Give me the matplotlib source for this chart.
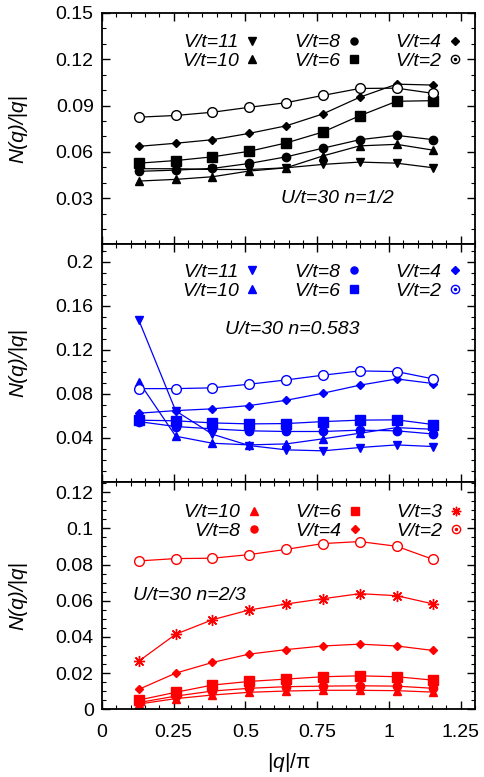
import numpy as np
import matplotlib
matplotlib.use('Agg')
import matplotlib.pyplot as plt
from matplotlib.lines import Line2D
from matplotlib.legend_handler import HandlerTuple
from matplotlib.ticker import MultipleLocator, FormatStrFormatter

plt.rcParams['font.family'] = ['Liberation Sans', 'DejaVu Sans']
plt.rcParams['mathtext.fontset'] = 'custom'
plt.rcParams['mathtext.it'] = 'Liberation Sans:italic'
plt.rcParams['mathtext.rm'] = 'Liberation Sans'

# |q|/pi grid
q = [0.128, 0.257, 0.385, 0.513, 0.642, 0.770, 0.898, 1.027, 1.155]

# U/t=30, n=1/2 (black)
half_v11 = [0.0491, 0.0491, 0.0486, 0.0486, 0.0497, 0.0519, 0.0534, 0.0527, 0.0497]
half_v10 = [0.0411, 0.0422, 0.0439, 0.0476, 0.0497, 0.0574, 0.0639, 0.0649, 0.0611]
half_v8 = [0.0474, 0.0482, 0.0493, 0.0525, 0.0568, 0.0624, 0.0679, 0.0707, 0.0679]
half_v6 = [0.0527, 0.0544, 0.0568, 0.0604, 0.0658, 0.0729, 0.0834, 0.0928, 0.0932]
half_v4 = [0.0636, 0.0656, 0.0679, 0.0720, 0.0769, 0.0846, 0.0954, 0.1039, 0.1033]
half_v2 = [0.0825, 0.0836, 0.0857, 0.0889, 0.0919, 0.0966, 0.1011, 0.1013, 0.0979]

# U/t=30, n=0.583 (blue)
mid_v11 = [0.1470, 0.0642, 0.0430, 0.0327, 0.0288, 0.0279, 0.0309, 0.0333, 0.0318]
mid_v10 = [0.0909, 0.0412, 0.0348, 0.0333, 0.0342, 0.0388, 0.0439, 0.0490, 0.0475]
mid_v8 = [0.0545, 0.0500, 0.0479, 0.0461, 0.0455, 0.0455, 0.0467, 0.0461, 0.0432]
mid_v6 = [0.0558, 0.0552, 0.0533, 0.0524, 0.0527, 0.0545, 0.0558, 0.0561, 0.0518]
mid_v4 = [0.0621, 0.0645, 0.0661, 0.0691, 0.0739, 0.0803, 0.0876, 0.0933, 0.0891]
mid_v2 = [0.0845, 0.0845, 0.0852, 0.0885, 0.0924, 0.0967, 0.1006, 0.1000, 0.0933]

# U/t=30, n=2/3 (red)
tt_v10 = [0.0029, 0.0059, 0.0079, 0.0094, 0.0101, 0.0105, 0.0105, 0.0103, 0.0095]
tt_v8 = [0.0037, 0.0073, 0.0101, 0.0116, 0.0125, 0.0128, 0.0130, 0.0128, 0.0116]
tt_v6 = [0.0051, 0.0094, 0.0134, 0.0154, 0.0167, 0.0180, 0.0185, 0.0180, 0.0161]
tt_v4 = [0.0110, 0.0200, 0.0259, 0.0305, 0.0330, 0.0350, 0.0360, 0.0350, 0.0325]
tt_v3 = [0.0266, 0.0415, 0.0495, 0.0549, 0.0582, 0.0611, 0.0639, 0.0628, 0.0582]
tt_v2 = [0.0820, 0.0833, 0.0835, 0.0855, 0.0884, 0.0916, 0.0927, 0.0901, 0.0828]

star = (8, 2, 0)

panels = [
    dict(color='black', ylim=0.15, major=0.03, minor=0.01,
         text='U/t=30 n=1/2', tpos=(0.63, 0.2), lpos=(0.966, 0.91),
         series=[('V/t=11', half_v11, 'v', 6, True),
                 ('V/t=10', half_v10, '^', 6, True),
                 ('V/t=8', half_v8, 'o', 6, True),
                 ('V/t=6', half_v6, 's', 7.5, True),
                 ('V/t=4', half_v4, 'D', 4.5, True),
                 ('V/t=2', half_v2, 'o', 7, False)]),
    dict(color='blue', ylim=0.2156, major=0.04, minor=0.01,
         text='U/t=30 n=0.583', tpos=(0.51, 0.64), lpos=(0.966, 0.92),
         series=[('V/t=11', mid_v11, 'v', 6, True),
                 ('V/t=10', mid_v10, '^', 6, True),
                 ('V/t=8', mid_v8, 'o', 6, True),
                 ('V/t=6', mid_v6, 's', 7, True),
                 ('V/t=4', mid_v4, 'D', 4.5, True),
                 ('V/t=2', mid_v2, 'o', 7, False)]),
    dict(color='red', ylim=0.1259, major=0.02, minor=0.005,
         text='U/t=30 n=2/3', tpos=(0.235, 0.5), lpos=(0.97, 0.902),
         series=[('V/t=10', tt_v10, '^', 6, True),
                 ('V/t=8', tt_v8, 'o', 6, True),
                 ('V/t=6', tt_v6, 's', 7, True),
                 ('V/t=4', tt_v4, 'D', 4.5, True),
                 ('V/t=3', tt_v3, star, 8, True),
                 ('V/t=2', tt_v2, 'o', 7, False)]),
]

fig = plt.figure(figsize=(4.84, 7.77), dpi=100)
left, width = 102 / 484, 373 / 484
edges = [(13, 244.5), (244.5, 481.5), (481.5, 709.3)]

for i, (p, (ytop, ybot)) in enumerate(zip(panels, edges)):
    ax = fig.add_axes([left, 1 - ybot / 777, width, (ybot - ytop) / 777])
    c = p['color']
    handles = []
    for label, vals, m, ms, filled in p['series']:
        fc = c if filled else 'white'
        ax.plot(q, vals, color=c, lw=0.9, marker=m, ms=ms, mfc=fc, mec=c, mew=1.0)
        h = Line2D([], [], ls='none', marker=m, ms=ms * 0.85, mfc=fc, mec=c, mew=1.0)
        if not filled:
            # open circle with a dot in the key, as in the original
            h = (h, Line2D([], [], ls='none', marker='o', ms=1.5, mfc=c, mec=c))
        handles.append(h)
    ax.set_xlim(0, 1.3)
    ax.set_ylim(0, p['ylim'])
    ax.xaxis.set_major_locator(MultipleLocator(0.25))
    ax.xaxis.set_minor_locator(MultipleLocator(0.05))
    ax.yaxis.set_major_locator(MultipleLocator(p['major']))
    ax.yaxis.set_minor_locator(MultipleLocator(p['minor']))
    ax.yaxis.set_major_formatter(FormatStrFormatter('%g'))
    ax.tick_params(which='both', direction='in', top=True, right=True, labelsize=14)
    ax.tick_params(which='major', length=6, width=1)
    ax.tick_params(which='minor', length=3, width=0.8)
    ax.tick_params(axis='y', pad=6)
    ax.tick_params(axis='x', pad=10.5)
    for s in ax.spines.values():
        s.set_linewidth(1.3)
    if i < 2:
        ax.tick_params(labelbottom=False)
        ax.set_yticks([t for t in ax.get_yticks() if 0 < t <= p['ylim'] + 1e-9])
    else:
        ax.set_xticks([0, 0.25, 0.5, 0.75, 1.0, 1.25])
        ax.xaxis.set_major_formatter(FormatStrFormatter('%g'))
        ax.set_xlabel('|$q$|/π', fontsize=15, labelpad=7.5)
    ax.set_ylabel('N(q)/|q|', fontsize=15, style='italic')
    ax.yaxis.set_label_coords(-0.2, 0.5)
    ax.text(p['tpos'][0], p['tpos'][1], p['text'], transform=ax.transAxes,
            fontsize=14, style='italic', ha='center', va='center')
    ax.legend(handles, [s[0] for s in p['series']], ncol=3, markerfirst=False,
              frameon=False, loc='upper right', bbox_to_anchor=p['lpos'],
              borderaxespad=0, borderpad=0, handlelength=0.8, handletextpad=0.3,
              columnspacing=1.73, labelspacing=0.05,
              handler_map={tuple: HandlerTuple(ndivide=1, pad=0)},
              prop={'size': 14, 'style': 'italic'})

fig.savefig('out.png', dpi=100)
